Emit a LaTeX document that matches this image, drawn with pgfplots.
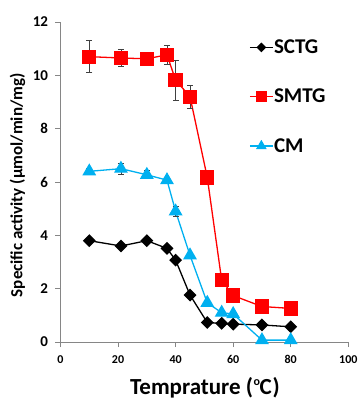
\documentclass[border=0pt]{standalone}
\usepackage{pgfplots}
\pgfplotsset{compat=1.18}
\usepackage{fontspec}
\setmainfont{Carlito}
\definecolor{cmblue}{RGB}{0,176,240}
\definecolor{axgray}{RGB}{134,134,134}
\definecolor{errgray}{RGB}{64,64,64}
\begin{document}
\begin{tikzpicture}
\begin{axis}[
  scale only axis,
  width=287.8pt, height=320pt,
  xmin=0, xmax=100, ymin=0, ymax=12,
  xtick={0,20,40,60,80,100},
  ytick={0,2,4,6,8,10,12},
  axis x line*=bottom, axis y line*=left,
  axis line style={-, draw=axgray, line width=0.8pt},
  tick style={draw=axgray, line width=0.8pt},
  tick align=outside,
  major tick length=5pt,
  /pgf/number format/assume math mode=true,
  xticklabel style={yshift=-5pt, font=\bfseries\fontsize{12}{12}\selectfont},
  yticklabel style={xshift=-4pt, font=\bfseries\fontsize{15}{15}\selectfont},
  xlabel={Temprature (\kern0.5pt\raisebox{0.85ex}{\fontsize{12}{12}\selectfont o}\kern-0.5ptC\kern1pt)},
  ylabel={Specific activity (µmol/min/mg)},
  every axis x label/.style={at={(rel axis cs:0.502,0)}, yshift=-46pt, anchor=center, font=\bfseries\fontsize{23}{23}\selectfont},
  every axis y label/.style={at={(rel axis cs:0,0.49)}, xshift=-43pt, rotate=90, anchor=center, font=\bfseries\fontsize{17}{17}\selectfont},
  clip=false,
  legend style={at={(axis cs:65.5,11.36)}, anchor=north west, draw=none, fill=none,
    font=\bfseries\fontsize{21}{21}\selectfont, row sep=33pt, inner sep=0pt,
    nodes={inner sep=0.5pt}},
  legend cell align=left,
  legend image code/.code={\draw[mark repeat=2,mark phase=2, every mark/.append style={scale=0.72}] plot coordinates {(0pt,0pt) (11.5pt,0pt) (23pt,0pt)};},
  error bars/error bar style={errgray, line width=0.7pt},
  error bars/error mark options={rotate=90, mark size=3pt, errgray, line width=0.7pt},
]
\addplot[black, line width=1.3pt, mark=square*, mark size=3.9pt, mark options={rotate=45, fill=black}]
  coordinates {(10,3.80) (21,3.60) (30,3.80) (37,3.51) (40,3.07) (45,1.76) (51,0.73) (56,0.70) (60,0.67) (70,0.64) (80,0.57)};
\addlegendentry{SCTG}
\addplot[red, line width=1.3pt, mark=square*, mark size=6.5pt, mark options={fill=red},
  error bars/.cd, y dir=both, y explicit]
  table[x=x, y=y, y error=e] {
x y e
10 10.70 0.60
21 10.65 0.33
30 10.62 0.10
37 10.77 0.36
40 9.82 0.75
45 9.20 0.43
51 6.17 0.25
56 2.32 0.10
60 1.74 0.08
70 1.33 0.05
80 1.26 0.05
};
\addlegendentry{SMTG}
\addplot[cmblue, line width=1.3pt, mark=triangle*, mark size=6.7pt, mark options={fill=cmblue},
  error bars/.cd, y dir=both, y explicit]
  table[x=x, y=y, y error=e] {
x y e
10 6.40 0.10
21 6.50 0.20
30 6.27 0.15
37 6.07 0.10
40 4.90 0.20
45 3.25 0.10
51 1.47 0.05
56 1.10 0.05
60 1.05 0.05
70 0.07 0.02
80 0.07 0.02
};
\addlegendentry{CM}
\end{axis}
\pgfresetboundingbox
\useasboundingbox (-60.5pt,-57pt) rectangle (296.5pt,342pt);
\end{tikzpicture}
\end{document}
